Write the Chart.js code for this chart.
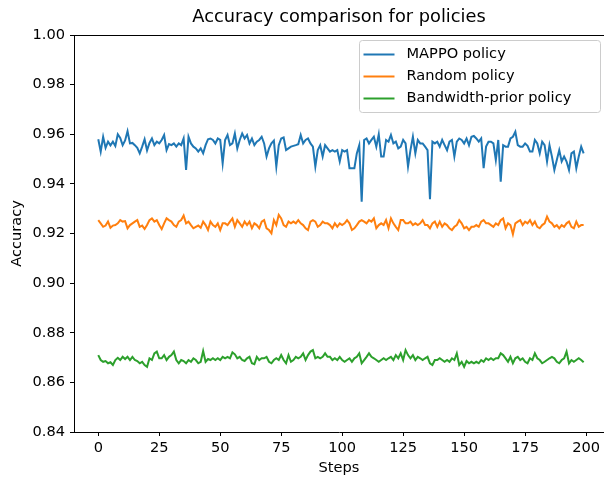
<!DOCTYPE html>
<html>
<head>
<meta charset="utf-8">
<script src="https://cdn.jsdelivr.net/npm/chart.js@4/dist/chart.umd.min.js"></script>
<style>
  html, body { margin: 0; padding: 0; background: #fff; overflow: hidden; }
  #wrap { width: 604px; height: 478px; position: relative; }
</style>
</head>
<body>
<div id="wrap"><canvas id="c" width="604" height="478"></canvas></div>
<script>
const steps = Array.from({length: 200}, (_, i) => i);
const xTicks = [0, 25, 50, 75, 100, 125, 150, 175, 200];
const yTicks = [0.84, 0.86, 0.88, 0.90, 0.92, 0.94, 0.96, 0.98, 1.00];
const seriesNames = ['MAPPO policy', 'Random policy', 'Bandwidth-prior policy'];

const mappo = [
0.9580,0.9530,0.9590,0.9545,0.9570,0.9555,0.9570,0.9553,0.9600,0.9585,
0.9556,0.9575,0.9612,0.9563,0.9565,0.9556,0.9545,0.9523,0.9550,0.9580,
0.9535,0.9565,0.9583,0.9556,0.9570,0.9563,0.9577,0.9597,0.9536,0.9560,
0.9556,0.9563,0.9550,0.9563,0.9556,0.9583,0.9456,0.9590,0.9563,0.9550,
0.9543,0.9530,0.9543,0.9523,0.9556,0.9580,0.9583,0.9577,0.9563,0.9583,
0.9577,0.9483,0.9577,0.9597,0.9556,0.9563,0.9603,0.9543,0.9577,0.9603,
0.9583,0.9597,0.9563,0.9583,0.9556,0.9570,0.9577,0.9590,0.9563,0.9510,
0.9543,0.9563,0.9574,0.9470,0.9556,0.9583,0.9587,0.9536,0.9543,0.9550,
0.9553,0.9556,0.9560,0.9597,0.9563,0.9577,0.9583,0.9563,0.9550,0.9470,
0.9536,0.9556,0.9510,0.9556,0.9543,0.9530,0.9536,0.9530,0.9536,0.9490,
0.9536,0.9530,0.9536,0.9463,0.9463,0.9463,0.9523,0.9556,0.9328,0.9577,
0.9583,0.9563,0.9577,0.9590,0.9550,0.9600,0.9510,0.9510,0.9577,0.9570,
0.9597,0.9563,0.9570,0.9543,0.9550,0.9577,0.9563,0.9470,0.9536,0.9590,
0.9523,0.9577,0.9563,0.9563,0.9550,0.9536,0.9338,0.9570,0.9563,0.9570,
0.9550,0.9577,0.9556,0.9536,0.9570,0.9577,0.9510,0.9570,0.9583,0.9577,
0.9563,0.9583,0.9556,0.9590,0.9593,0.9583,0.9570,0.9583,0.9463,0.9550,
0.9570,0.9570,0.9563,0.9496,0.9577,0.9409,0.9556,0.9550,0.9550,0.9583,
0.9590,0.9610,0.9556,0.9550,0.9550,0.9563,0.9553,0.9530,0.9530,0.9577,
0.9563,0.9523,0.9570,0.9556,0.9490,0.9556,0.9510,0.9456,0.9496,0.9536,
0.9490,0.9510,0.9490,0.9456,0.9523,0.9530,0.9463,0.9510,0.9550,0.9523
];

const randomPolicy = [
0.9254,0.9241,0.9227,0.9232,0.9248,0.9223,0.9232,0.9234,0.9241,0.9254,
0.9248,0.9250,0.9221,0.9234,0.9241,0.9248,0.9254,0.9227,0.9232,0.9218,
0.9234,0.9254,0.9261,0.9248,0.9254,0.9234,0.9218,0.9241,0.9261,0.9254,
0.9248,0.9234,0.9227,0.9248,0.9254,0.9272,0.9241,0.9248,0.9234,0.9221,
0.9227,0.9232,0.9223,0.9248,0.9234,0.9214,0.9248,0.9234,0.9227,0.9241,
0.9214,0.9241,0.9241,0.9234,0.9248,0.9261,0.9227,0.9254,0.9241,0.9227,
0.9248,0.9234,0.9248,0.9221,0.9241,0.9234,0.9221,0.9248,0.9254,0.9221,
0.9214,0.9201,0.9254,0.9234,0.9275,0.9261,0.9234,0.9227,0.9248,0.9241,
0.9248,0.9241,0.9254,0.9241,0.9234,0.9221,0.9214,0.9248,0.9254,0.9248,
0.9227,0.9234,0.9248,0.9241,0.9241,0.9234,0.9221,0.9241,0.9227,0.9241,
0.9234,0.9241,0.9254,0.9241,0.9214,0.9221,0.9234,0.9248,0.9254,0.9248,
0.9241,0.9254,0.9248,0.9261,0.9221,0.9234,0.9241,0.9234,0.9254,0.9221,
0.9261,0.9241,0.9227,0.9214,0.9254,0.9254,0.9241,0.9241,0.9248,0.9234,
0.9241,0.9234,0.9241,0.9254,0.9234,0.9234,0.9221,0.9241,0.9248,0.9227,
0.9248,0.9227,0.9241,0.9234,0.9221,0.9214,0.9227,0.9234,0.9254,0.9241,
0.9221,0.9227,0.9214,0.9227,0.9227,0.9234,0.9227,0.9248,0.9254,0.9241,
0.9241,0.9234,0.9227,0.9241,0.9234,0.9254,0.9261,0.9221,0.9241,0.9234,
0.9197,0.9241,0.9248,0.9254,0.9234,0.9248,0.9241,0.9254,0.9234,0.9248,
0.9227,0.9221,0.9234,0.9241,0.9268,0.9248,0.9241,0.9227,0.9234,0.9221,
0.9234,0.9227,0.9241,0.9248,0.9227,0.9221,0.9248,0.9227,0.9234,0.9234
];

const bandwidthPrior = [
0.8710,0.8690,0.8683,0.8686,0.8677,0.8681,0.8670,0.8690,0.8699,0.8690,
0.8703,0.8694,0.8703,0.8690,0.8703,0.8690,0.8686,0.8677,0.8683,0.8670,
0.8663,0.8697,0.8690,0.8717,0.8724,0.8697,0.8697,0.8710,0.8690,0.8703,
0.8710,0.8724,0.8690,0.8677,0.8690,0.8686,0.8677,0.8690,0.8683,0.8697,
0.8690,0.8677,0.8683,0.8726,0.8683,0.8694,0.8690,0.8697,0.8690,0.8697,
0.8690,0.8703,0.8697,0.8703,0.8697,0.8721,0.8713,0.8697,0.8703,0.8690,
0.8686,0.8697,0.8703,0.8677,0.8673,0.8703,0.8690,0.8697,0.8697,0.8703,
0.8683,0.8677,0.8690,0.8697,0.8690,0.8710,0.8690,0.8677,0.8710,0.8683,
0.8690,0.8703,0.8697,0.8703,0.8717,0.8690,0.8710,0.8724,0.8730,0.8697,
0.8703,0.8697,0.8703,0.8717,0.8703,0.8703,0.8690,0.8697,0.8690,0.8703,
0.8690,0.8683,0.8690,0.8697,0.8683,0.8697,0.8703,0.8717,0.8677,0.8690,
0.8703,0.8717,0.8703,0.8697,0.8690,0.8683,0.8690,0.8697,0.8690,0.8697,
0.8703,0.8690,0.8710,0.8697,0.8717,0.8690,0.8730,0.8710,0.8697,0.8710,
0.8690,0.8703,0.8697,0.8690,0.8697,0.8703,0.8677,0.8670,0.8690,0.8690,
0.8697,0.8690,0.8683,0.8690,0.8683,0.8697,0.8690,0.8717,0.8670,0.8683,
0.8663,0.8686,0.8677,0.8683,0.8677,0.8683,0.8677,0.8690,0.8683,0.8697,
0.8690,0.8697,0.8690,0.8697,0.8697,0.8717,0.8710,0.8697,0.8683,0.8703,
0.8677,0.8697,0.8703,0.8690,0.8697,0.8683,0.8677,0.8697,0.8690,0.8717,
0.8697,0.8690,0.8677,0.8683,0.8690,0.8697,0.8703,0.8697,0.8683,0.8677,
0.8690,0.8697,0.8724,0.8677,0.8690,0.8683,0.8690,0.8697,0.8690,0.8681
];

const colors = ['#1f77b4', '#ff7f0e', '#2ca02c'];
const FONT = "'DejaVu Sans', 'Liberation Sans', sans-serif";
const TICK_SIZE = 14.6;

const frameAndLegend = {
  id: 'frameAndLegend',
  afterDatasetsDraw(chart) {
    const ctx = chart.ctx;
    const ca = chart.chartArea;
    ctx.save();
    // top spine
    ctx.strokeStyle = '#000';
    ctx.lineWidth = 1;
    ctx.beginPath();
    ctx.moveTo(ca.left, Math.round(ca.top) + 0.5);
    ctx.lineTo(ca.right, Math.round(ca.top) + 0.5);
    ctx.stroke();
    // legend box
    const bx = ca.right - 244.5, by = ca.top + 5.5, bw = 241, bh = 72;
    ctx.beginPath();
    if (ctx.roundRect) ctx.roundRect(bx, by, bw, bh, 3); else ctx.rect(bx, by, bw, bh);
    ctx.fillStyle = 'rgba(255,255,255,0.8)';
    ctx.fill();
    ctx.strokeStyle = '#cccccc';
    ctx.lineWidth = 1;
    ctx.stroke();
    ctx.font = TICK_SIZE + 'px ' + FONT;
    ctx.textBaseline = 'middle';
    ctx.textAlign = 'left';
    chart.data.datasets.forEach((ds, i) => {
      const y = by + 14 + i * 22;
      ctx.strokeStyle = ds.borderColor;
      ctx.lineWidth = 2;
      ctx.beginPath();
      ctx.moveTo(bx + 4, y);
      ctx.lineTo(bx + 35, y);
      ctx.stroke();
      ctx.fillStyle = '#000';
      ctx.fillText(ds.label, bx + 47, y);
    });
    ctx.restore();
  }
};

const mk = (label, data, color) => ({
  label, data, borderColor: color, backgroundColor: color,
  borderWidth: 2, pointRadius: 0, tension: 0, fill: false
});

new Chart(document.getElementById('c'), {
  type: 'line',
  data: {
    labels: steps,
    datasets: [
      mk(seriesNames[0], mappo, colors[0]),
      mk(seriesNames[1], randomPolicy, colors[1]),
      mk(seriesNames[2], bandwidthPrior, colors[2])
    ]
  },
  options: {
    responsive: false,
    animation: false,
    events: [],
    layout: { padding: { left: 0, right: 0, top: 0, bottom: 0 } },
    plugins: {
      legend: { display: false },
      tooltip: { enabled: false },
      title: {
        display: true,
        fullSize: false,
        text: 'Accuracy comparison for policies',
        color: '#000',
        font: { family: FONT, size: 17.8, weight: 'normal' },
        padding: { top: 6.8, bottom: 6.84 }
      }
    },
    scales: {
      x: {
        type: 'linear',
        min: -9.95,
        max: 207.35,
        afterBuildTicks: (s) => { s.ticks = xTicks.map(v => ({ value: v })); },
        afterFit: (s) => { s.height = 46; },
        ticks: {
          color: '#000',
          font: { family: FONT, size: TICK_SIZE },
          padding: 3,
          maxRotation: 0,
          autoSkip: false,
          callback: (v) => String(v)
        },
        grid: { drawOnChartArea: false, drawTicks: true, tickLength: 4, color: '#000', lineWidth: 1 },
        border: { display: true, color: '#000', width: 1 },
        title: {
          display: true, text: 'Steps', color: '#000',
          font: { family: FONT, size: TICK_SIZE },
          padding: { top: 2, bottom: 1.5 }
        }
      },
      y: {
        min: 0.84,
        max: 1.00,
        afterBuildTicks: (s) => { s.ticks = yTicks.map(v => ({ value: v })); },
        afterFit: (s) => { s.width = 74; },
        ticks: {
          color: '#000',
          font: { family: FONT, size: TICK_SIZE },
          padding: 5,
          autoSkip: false,
          callback: (v) => Number(v).toFixed(2)
        },
        grid: { drawOnChartArea: false, drawTicks: true, tickLength: 4, color: '#000', lineWidth: 1 },
        border: { display: true, color: '#000', width: 1 },
        title: {
          display: true, text: 'Accuracy', color: '#000',
          font: { family: FONT, size: TICK_SIZE },
          padding: { top: 8.2, bottom: 2 }
        }
      }
    }
  },
  plugins: [frameAndLegend]
});
</script>
</body>
</html>
